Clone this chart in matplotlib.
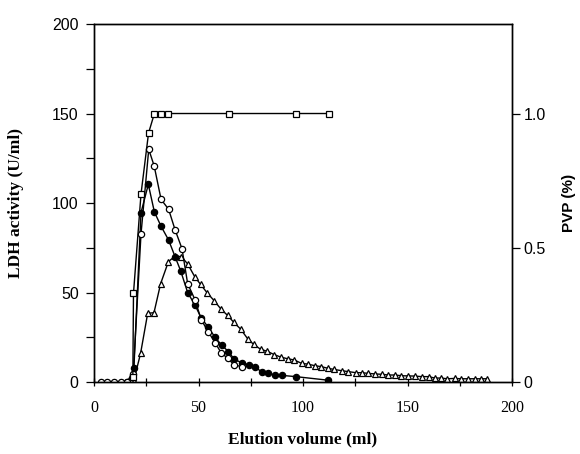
import numpy as np
import matplotlib
matplotlib.use("Agg")
from matplotlib import pyplot as plt
from matplotlib.ticker import MultipleLocator

# LDH activity, open circles
open_x = [3.2, 6.4, 9.6, 12.8, 15.8, 18.8, 22.5, 26.2, 28.8, 32.1, 35.7, 38.8, 42.1,
          44.8, 48.3, 51.3, 54.7, 57.9, 60.8, 64.0, 67.1, 70.6]
open_y = [0, 0, 0, 0, 0, 4.5, 82.7, 130, 120.7, 102, 96.5, 85, 74.5,
          55, 46, 34.8, 28, 22, 16.4, 13.2, 9.5, 8.6]

# LDH activity, filled circles
fill_x = [16.0, 19.1, 22.5, 26.0, 28.9, 32.1, 35.7, 38.8, 41.5, 44.8, 48.3, 51.2,
          54.7, 57.9, 61.0, 64.3, 67.1, 70.6, 74.2, 77.0, 80.2, 83.0, 86.6, 89.8,
          96.5, 112.0]
fill_y = [0, 7.6, 94.6, 110.4, 95, 87, 79.3, 70, 62, 50, 43, 36,
          30.5, 25, 20.7, 17, 12.7, 10.8, 9.5, 8.2, 5.8, 5.2, 3.7, 3.7,
          3.0, 1.0]

# LDH activity, open triangles
tri_x = [19.0, 22.3, 25.7, 28.7, 31.9, 35.6, 38.8, 41.8, 44.8, 48.2, 51.0, 54.0,
         57.5, 60.7, 63.9, 66.9, 70.2, 73.6, 76.4, 79.8, 82.8, 86.2, 89.4, 92.6,
         95.8, 99.3, 102.2, 105.7, 108.6, 112.1, 115.0, 118.5, 121.7, 125.2, 128.0,
         131.3, 134.4, 137.6, 140.8, 144.0, 147.0, 150.3, 153.5, 156.7, 160.0,
         163.0, 166.0, 169.0, 172.5, 175.6, 178.8, 182.0, 185.0, 188.2]
tri_y = [0.5, 16, 38.4, 38.7, 55, 67.2, 70.4, 70, 66, 58.8, 54.5, 50,
         45.4, 40.8, 37.2, 33.3, 29.5, 24, 21, 18.2, 17.2, 15.3, 13.9, 13,
         12.3, 10.4, 10, 9.1, 8.6, 7.6, 7.0, 6.3, 5.8, 5.2, 5.2,
         4.8, 4.5, 4.3, 3.9, 3.9, 3.5, 3.4, 3.3, 3.0, 3.0,
         2.2, 2.2, 1.8, 2.0, 1.8, 1.8, 1.8, 1.8, 1.8]

# PVP (%), open squares (right axis)
pvp_x = [18.6, 18.9, 22.5, 26.1, 28.9, 32.1, 35.6, 64.7, 96.7, 112.6]
pvp_y = [0.02, 0.33, 0.70, 0.927, 1.0, 1.0, 1.0, 1.0, 1.0, 1.0]

serif = ["Liberation Serif", "DejaVu Serif"]
sans = ["Liberation Sans", "DejaVu Sans"]

fig = plt.figure(figsize=(5.8, 4.54), dpi=100)
ax = fig.add_axes([0.162, 0.1586, 0.721, 0.7885])
ax2 = ax.twinx()

mk = dict(color="black", lw=1.0, markersize=4.5, markeredgewidth=0.9)
ax2.plot(pvp_x, pvp_y, marker="s", markerfacecolor="white", **mk)
ax.plot(tri_x, tri_y, marker="^", markerfacecolor="white", **mk)
ax.plot(fill_x, fill_y, marker="o", markerfacecolor="black", **mk)
ax.plot(open_x, open_y, marker="o", markerfacecolor="white", **mk)

ax.set_xlim(0, 200)
ax.set_ylim(0, 200)
ax2.set_ylim(0, 200 / 150)

ax.xaxis.set_major_locator(MultipleLocator(50))
ax.xaxis.set_minor_locator(MultipleLocator(25))
ax.yaxis.set_major_locator(MultipleLocator(50))
ax.yaxis.set_minor_locator(MultipleLocator(25))
ax2.set_yticks([0, 0.5, 1.0])
ax2.set_yticklabels(["0", "0.5", "1.0"])

ax.tick_params(axis="x", which="both", direction="inout", length=6, width=0.9, pad=10)
ax.tick_params(axis="y", which="both", direction="out", length=6, width=0.9, pad=5)
ax2.tick_params(axis="y", direction="out", length=6, width=0.9, pad=2)

for lab in ax.get_xticklabels():
    lab.set_family(serif)
    lab.set_fontsize(11.5)
for lab in ax.get_yticklabels():
    lab.set_family(sans)
    lab.set_fontsize(11.5)
for lab in ax2.get_yticklabels():
    lab.set_family(sans)
    lab.set_fontsize(11.5)

for a in (ax, ax2):
    for s in a.spines.values():
        s.set_linewidth(1.0)

ax.set_xlabel("Elution volume (ml)", family=serif, fontweight="bold", fontsize=12.5, labelpad=11)
ax.set_ylabel("LDH activity (U/ml)", family=serif, fontweight="bold", fontsize=12.5, labelpad=20)
ax2.set_ylabel("PVP (%)", family=sans, fontweight="bold", fontsize=11, labelpad=12)

fig.savefig("out.png", dpi=100)
